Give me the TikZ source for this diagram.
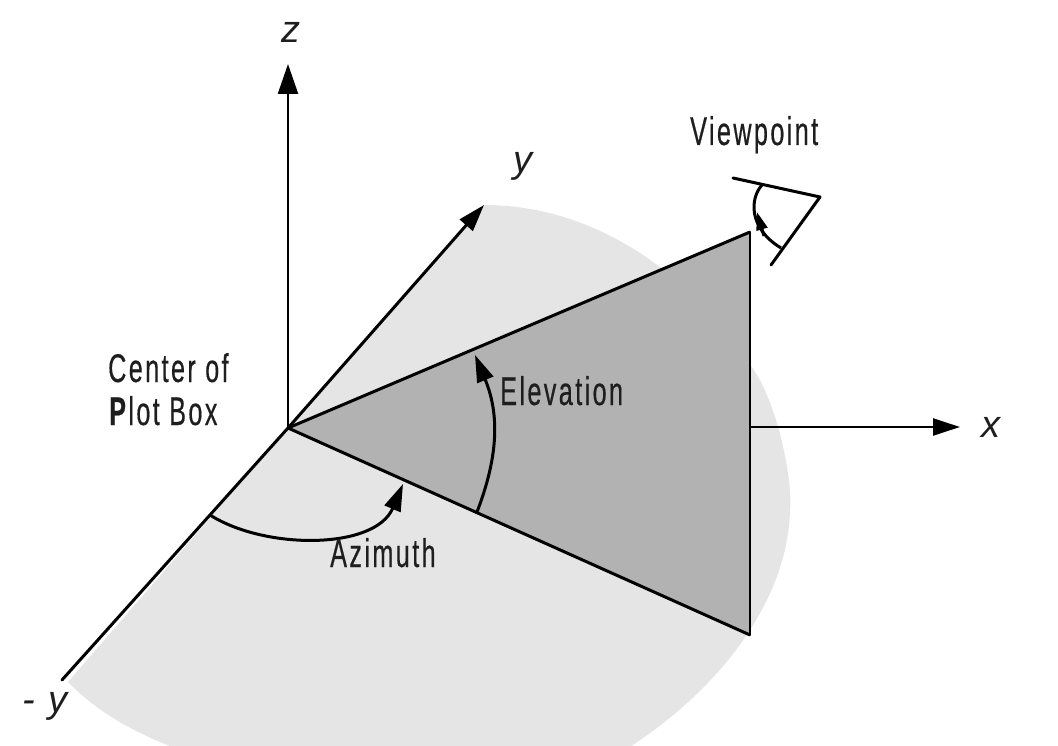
\documentclass[tikz,border=0pt]{standalone}
\usepackage{fontspec}
\setmainfont{Liberation Sans}
\newfontfamily\narrowf[FakeStretch=0.63,LetterSpace=6,FakeBold=0.4]{Liberation Sans}
\newfontfamily\axisf{Liberation Sans}
\usetikzlibrary{arrows.meta}
\definecolor{lightreg}{HTML}{E5E5E5}
\definecolor{darkreg}{HTML}{B2B2B2}
\definecolor{ink}{HTML}{1E1E1E}
\tikzset{
  ln/.style={line width=3pt,black,line join=round},
  thin ln/.style={line width=2.4pt,black},
  bigtip/.style={-{Triangle[length=30pt,width=20pt]}},
  midtip/.style={-{Triangle[length=27pt,width=17pt]}},
  smalltip/.style={-{Triangle[length=18pt,width=11pt]}},
  lbl/.style={inner sep=0pt,anchor=base west,text=ink,font=\narrowf\fontsize{40}{42}\selectfont},
  axlbl/.style={inner sep=0pt,anchor=base,text=ink,font=\axisf\itshape\fontsize{38}{40}\selectfont},
}
\begin{document}
\begin{tikzpicture}[x=1pt,y=-1pt]
\useasboundingbox (0,0) rectangle (1058,746);
\clip (0,0) rectangle (1058,746);
\coordinate (O) at (288,428);
\coordinate (Ztip) at (288,64);
\coordinate (Ytip) at (484,205);
\coordinate (Yneg) at (62,680);
\coordinate (Xtip) at (960,427);
\coordinate (Xstart) at (750,427);
\coordinate (Top) at (750,232);
\coordinate (Bot) at (750,635);
\coordinate (ElS) at (477,512);
\coordinate (ElT) at (475,355);
\coordinate (AzS) at (210,515);
\coordinate (AzT) at (403,484);
\coordinate (EyeA) at (733,178);
\coordinate (EyeB) at (820,197);
\coordinate (EyeC) at (771,265);
\coordinate (ArcA) at (762,185);
\coordinate (ArcB) at (781,248);
\coordinate (ArcT) at (757,212);
% light region
\fill[lightreg] (Ytip) .. controls (600,205) and (700,280) .. (760,380)
  .. controls (785,430) and (792,490) .. (790,510)
  .. controls (788,600) and (720,690) .. (625,750)
  -- (180,750) .. controls (140,735) and (100,715) .. (68,682) -- (O) -- cycle;
% dark triangle
\fill[darkreg] (O) -- (Top) -- (Bot) -- cycle;
\draw[ln] (O) -- (Top);
\draw[ln] (O) -- (Bot);
\draw[thin ln,line cap=round] (Top) -- (Bot);
% axes
\draw[thin ln,bigtip] (O) -- (Ztip);
\draw[ln,midtip] (O) -- (Ytip);
\draw[ln,line cap=round] (O) -- (Yneg);
\draw[thin ln,midtip] (Xstart) -- (Xtip);
% arcs
\draw[ln,midtip] (ElS) .. controls (495,465) and (502,420) .. (ElT);
\draw[ln,midtip] (AzS) .. controls (265,550) and (375,550) .. (AzT);
% eye
\draw[ln,line cap=round] (EyeA) -- (EyeB) -- (EyeC);
\draw[ln] (ArcA) .. controls (750,198) and (748,228) .. (ArcB);
\draw[ln,smalltip] (764,236) -- (ArcT);
% labels
\node[lbl] (view) at (690,145) {Viewpoint};
\node[lbl] (cen) at (108,382) {Center of};
\node[lbl] (plot) at (109,425) {\textbf{P}lot Box};
\node[lbl] (elev) at (500,405) {Elevation};
\node[lbl] (azim) at (330,567) {Azimuth};
\node[axlbl] (zl) at (291,43) {z};
\node[axlbl] (yl) at (523,173) {y};
\node[axlbl] (xl) at (991,437) {x};
\node[axlbl] (myl) at (45,712) {-\,\,y};
\end{tikzpicture}
\end{document}
